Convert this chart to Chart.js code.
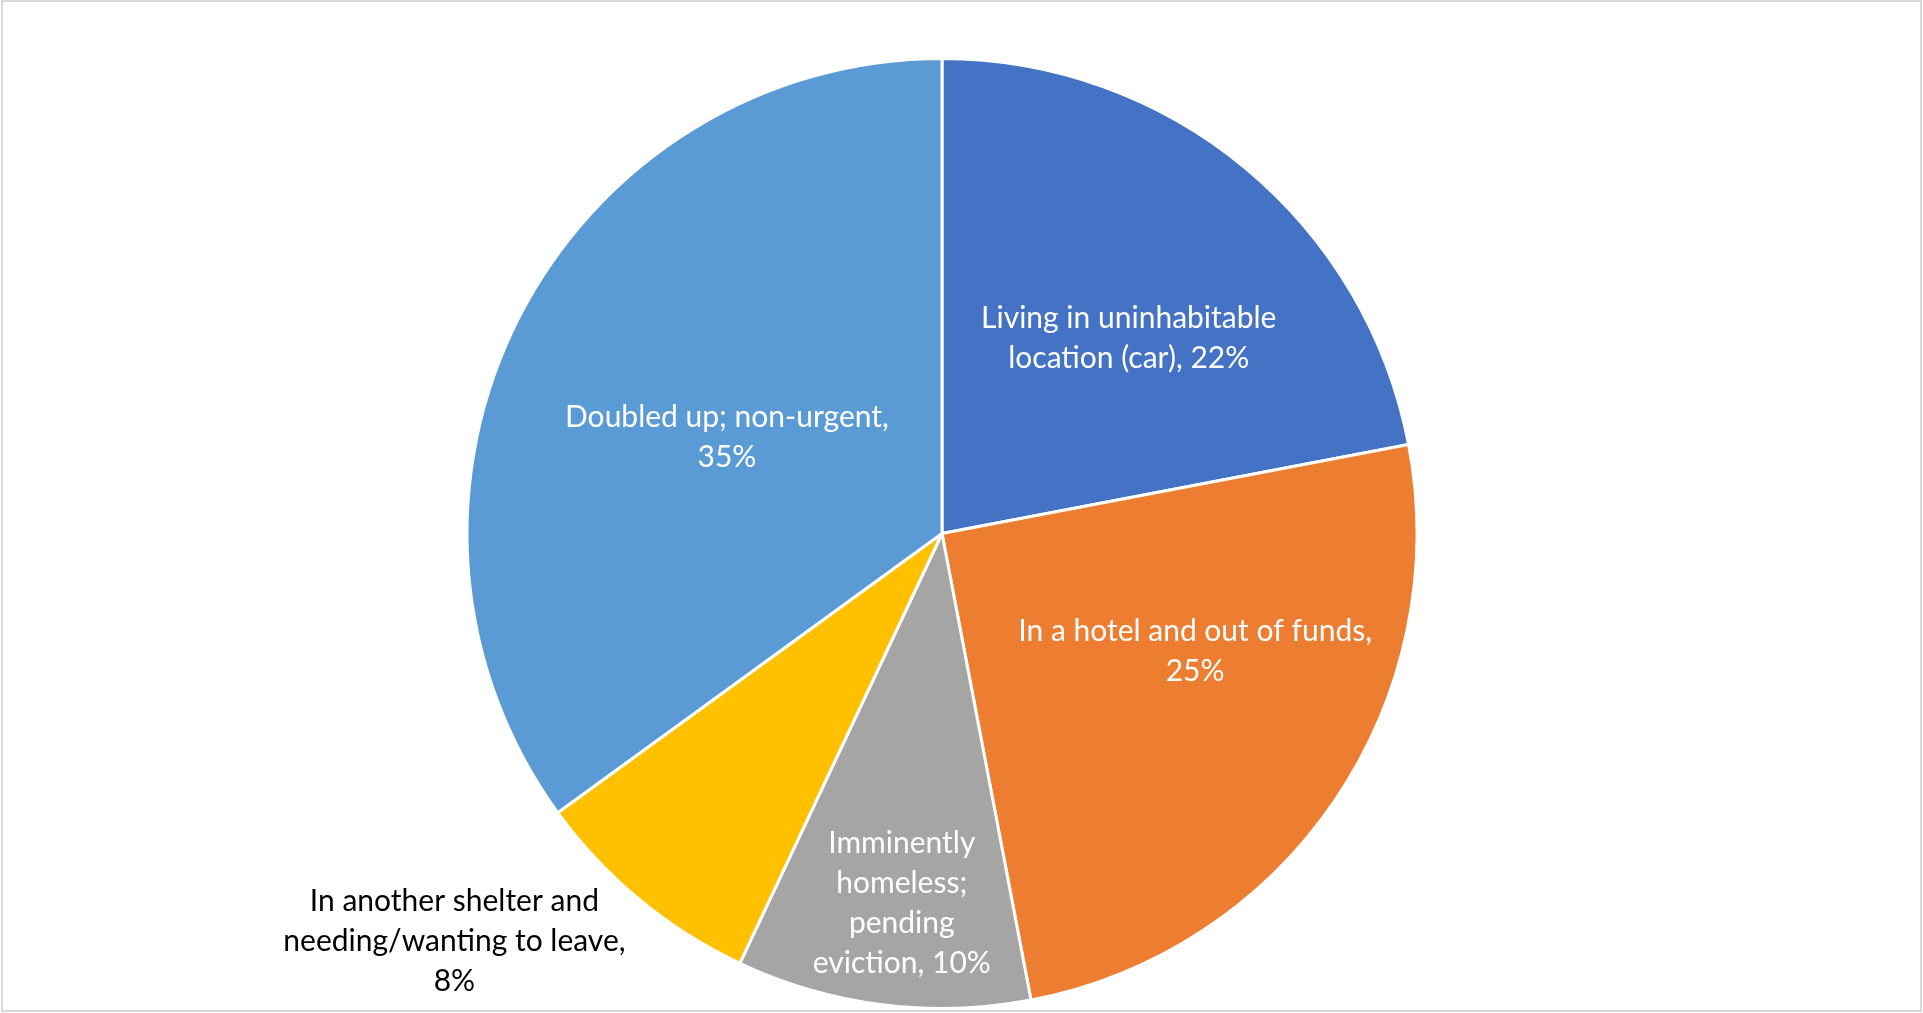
<!doctype html>
<html>

<head>
    <title>Homeless situation</title>
    <meta http-equiv="Content-Type" content="text/html;charset=UTF-8">
    <script src="https://cdn.jsdelivr.net/npm/chart.js@4.4.1/dist/chart.umd.min.js"></script>
    <style>
        html, body { margin: 0; padding: 0; background: #ffffff; overflow: hidden; }
        canvas { display: block; }
    </style>
</head>

<body>
    <canvas id="grafico" width="1923" height="1013"></canvas>
</body>
<script>

    // dados
    var categorias = [
        "Living in uninhabitable location (car)",
        "In a hotel and out of funds",
        "Imminently homeless; pending eviction",
        "In another shelter and needing/wanting to leave",
        "Doubled up; non-urgent"
    ];
    var valores = [22, 25, 10, 8, 35];
    var cores = ["#4472C4", "#ED7D31", "#A5A5A5", "#FFC000", "#5B9BD5"];

    // quebras de linha dos rótulos (como no original)
    var linhasRotulo = [
        ["Living in uninhabitable", "location (car), 22%"],
        ["In a hotel and out of funds,", "25%"],
        ["Imminently", "homeless;", "pending", "eviction, 10%"],
        ["In another shelter and", "needing/wanting to leave,", "8%"],
        ["Doubled up; non-urgent,", "35%"]
    ];

    // posição de cada rótulo: desvio do ângulo médio (graus) e fração do raio
    var posRotulo = [
        { desvio: 4.2, raio: 0.568, cor: "#ffffff" },
        { desvio: -9.2, raio: 0.588, cor: "#ffffff" },
        { desvio: -1.0, raio: 0.784, cor: "#ffffff" },
        { desvio: 10.5, raio: 1.338, cor: "#000000" },
        { desvio: -2.9, raio: 0.496, cor: "#ffffff" }
    ];

    var rotulos = {
        id: 'rotulos',
        afterDatasetsDraw: function (chart) {
            var ctx = chart.ctx;
            var arcos = chart.getDatasetMeta(0).data;
            ctx.save();
            ctx.font = "30px Lato";
            ctx.textAlign = "center";
            ctx.textBaseline = "middle";
            var altura = 40;
            arcos.forEach(function (arco, i) {
                var p = arco.getProps(['x', 'y', 'startAngle', 'endAngle', 'outerRadius'], true);
                var ang = (p.startAngle + p.endAngle) / 2 + posRotulo[i].desvio * Math.PI / 180;
                var r = p.outerRadius * posRotulo[i].raio;
                var cx = p.x + Math.cos(ang) * r;
                var cy = p.y + Math.sin(ang) * r;
                var linhas = linhasRotulo[i];
                var y0 = cy - (linhas.length - 1) * altura / 2;
                ctx.fillStyle = posRotulo[i].cor;
                linhas.forEach(function (l, k) {
                    ctx.fillText(l, cx, y0 + k * altura);
                });
            });
            ctx.restore();
        }
    };

    var moldura = {
        id: 'moldura',
        afterDraw: function (chart) {
            var ctx = chart.ctx;
            ctx.save();
            ctx.strokeStyle = "#d9d9d9";
            ctx.lineWidth = 2;
            ctx.strokeRect(2, 1, 1919, 1010);
            ctx.restore();
        }
    };

    var grafico = {};

    function plota_grafico() {
        var contexto = document.getElementById("grafico");

        grafico = new Chart(contexto, {
            type: 'pie',
            data: {
                labels: categorias,
                datasets: [
                    {
                        data: valores,
                        backgroundColor: cores,
                        borderColor: "#ffffff",
                        borderWidth: 3
                    }
                ]
            },
            options: {
                responsive: false,
                animation: false,
                layout: {
                    padding: { top: 57, bottom: 3, left: 465, right: 504 }
                },
                plugins: {
                    legend: { display: false },
                    tooltip: { enabled: false }
                }
            },
            plugins: [rotulos, moldura]
        });
    }

    plota_grafico();
</script>

</html>
